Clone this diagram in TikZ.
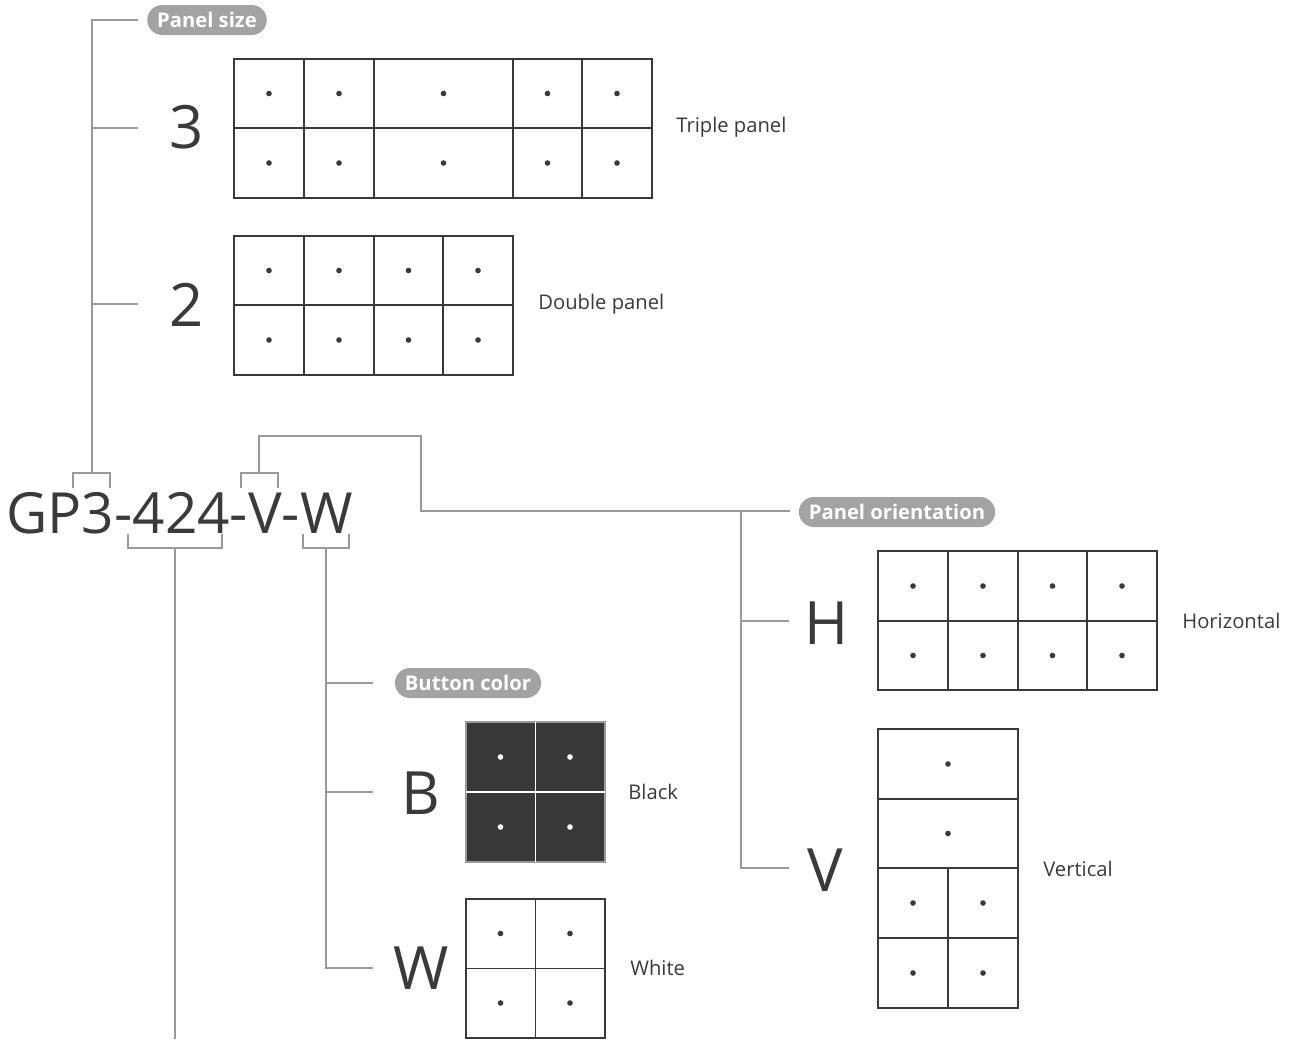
\documentclass[tikz,border=0pt]{standalone}
\usepackage{fontspec}
\setmainfont{Open Sans}
\usetikzlibrary{positioning}
\definecolor{ink}{HTML}{3A3A3A}
\definecolor{branch}{HTML}{9A9A9A}
\definecolor{pill}{HTML}{A3A3A3}
\definecolor{keyfill}{HTML}{383838}
\tikzset{
  tree/.style={branch,line width=1.2pt},
  tag/.style={fill=pill,text=white,font=\bfseries\fontsize{11.5}{13}\selectfont,rounded corners=0.3cm,minimum height=0.6cm,inner xsep=0.2cm,inner ysep=0pt},
  code/.style={font=\fontsize{32.3}{33}\selectfont,text=ink,inner sep=0pt},
  pick/.style={font=\fontsize{34}{34}\selectfont,text=ink,inner sep=0pt},
  caption/.style={font=\fontsize{11.5}{13}\selectfont,text=ink,anchor=west,inner sep=0pt},
  cell/.style={draw=ink,line width=0.9pt},
  edge/.style={draw=ink,line width=1.2pt},
}

\begin{document}
\begin{tikzpicture}[x=0.02cm,y=-0.02cm]
\useasboundingbox (0,0) rectangle (1292,1039);

% part number and its brackets
\node[code,anchor=base west] (pn) at (6,533) {GP3-424-V-W};
\draw[tree] (73,488) -- (73,473) -- (110,473) -- (110,488);
\draw[tree] (241,488) -- (241,473) -- (278,473) -- (278,488);
\draw[tree] (128,534) -- (128,548) -- (222,548) -- (222,534);
\draw[tree] (303,534) -- (303,548) -- (349,548) -- (349,534);
\coordinate (sizeRoot) at (92,473);
\coordinate (orientRoot) at (259,473);
\coordinate (layoutRoot) at (175,548);
\coordinate (colorRoot) at (326,548);

% panel size
\node[tag] (sizeTag) at (207,20) {Panel size};
\node[pick] (size3) at (187,127) {3};
\node[pick] (size2) at (187,305) {2};
\coordinate (sizeTop) at (92,20);
\draw[tree] (sizeRoot) -- (sizeTop) -- (138,20);
\draw[tree] (92,128) -- (138,128);
\draw[tree] (92,304) -- (138,304);

\draw[edge] (234,59) rectangle (652,198);
\draw[cell] (234,128) -- (652,128);
\foreach \x in {304,582} \draw[cell] (\x,59) -- (\x,198);
\foreach \x in {374,513} \draw[edge] (\x,59) -- (\x,198);
\foreach \x in {269,339,443.5,547.5,617}
  \foreach \y in {93.5,163} \fill[ink] (\x,\y) circle (1.6pt);
\node[caption] (triple) at (676,127) {Triple panel};

\draw[edge] (234,236) rectangle (513,375);
\draw[cell] (234,305) -- (513,305);
\foreach \x in {304,443} \draw[cell] (\x,236) -- (\x,375);
\draw[edge] (374,236) -- (374,375);
\foreach \x in {269,339,408.5,478}
  \foreach \y in {270.5,340} \fill[ink] (\x,\y) circle (1.6pt);
\node[caption] (double) at (538,304) {Double panel};

% panel orientation
\coordinate (orientBend) at (421,511);
\draw[tree] (orientRoot) -- (259,436) -- (421,436) -- (orientBend) -- (790,511);
\node[tag] (orientTag) at (897,512) {Panel orientation};
\node[pick] (orientH) at (827,623) {H};
\node[pick] (orientV) at (825,870) {V};
\draw[tree] (741,511) -- (741,868) -- (789,868);
\draw[tree] (741,621) -- (789,621);

\draw[edge] (878,551) rectangle (1157,690);
\draw[cell] (878,621) -- (1157,621);
\foreach \x in {948,1087} \draw[cell] (\x,551) -- (\x,690);
\draw[edge] (1018,551) -- (1018,690);
\foreach \x in {913,983,1052.5,1122}
  \foreach \y in {586,655.5} \fill[ink] (\x,\y) circle (1.6pt);
\node[caption] (horiz) at (1182,621) {Horizontal};

\draw[edge] (878,729) rectangle (1018,1008);
\draw[cell] (878,799) -- (1018,799);
\draw[edge] (878,868) -- (1018,868);
\draw[cell] (878,938) -- (1018,938);
\draw[cell] (948,868) -- (948,1008);
\foreach \p in {(948,764),(948,833.5),(913,903),(983,903),(913,973),(983,973)}
  \fill[ink] \p circle (1.6pt);
\node[caption] (vert) at (1043,869) {Vertical};

% button color
\node[tag] (colorTag) at (468,683) {Button color};
\node[pick] (colorB) at (421,793) {B};
\node[pick] (colorW) at (421,968) {W};
\draw[tree] (colorRoot) -- (326,968) -- (373,968);
\draw[tree] (326,683) -- (373,683);
\draw[tree] (326,792) -- (373,792);

\draw[fill=keyfill,draw=branch,line width=0.9pt] (466,722) rectangle (605,862);
\draw[white,line width=0.9pt] (535.5,722) -- (535.5,862) (466,792) -- (605,792);
\foreach \x in {500.5,570}
  \foreach \y in {757,827} \fill[white] (\x,\y) circle (1.6pt);
\node[caption] (black) at (628,792) {Black};

\draw[edge] (466,899) rectangle (605,1038);
\draw[cell] (535.5,899) -- (535.5,1038) (466,968.5) -- (605,968.5);
\foreach \x in {500.5,570}
  \foreach \y in {933.5,1003} \fill[ink] (\x,\y) circle (1.6pt);
\node[caption] (white) at (630,968) {White};

% case size
\draw[tree] (layoutRoot) -- (175,1039);
\end{tikzpicture}
\end{document}
